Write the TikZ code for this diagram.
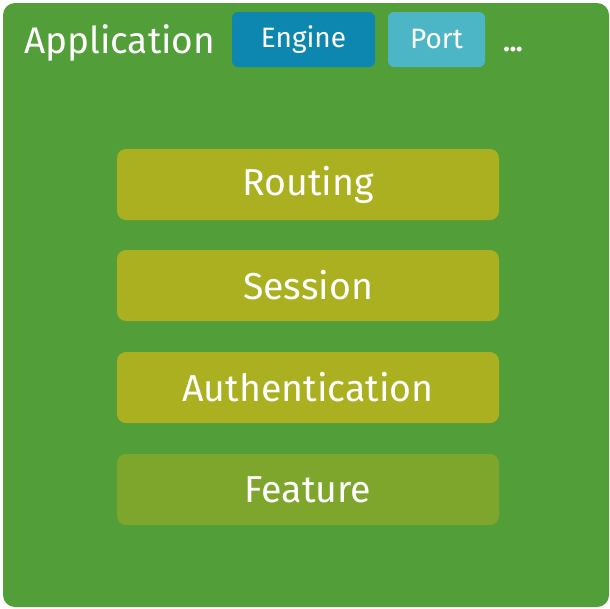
\documentclass[tikz,border=0pt]{standalone}
\usepackage{fontspec}
\setmainfont{Fira Sans}
\definecolor{appgreen}{HTML}{529E38}
\definecolor{enginebl}{HTML}{0D87B0}
\definecolor{portbl}{HTML}{4DB6C6}
\definecolor{layerol}{HTML}{AAB020}
\definecolor{featol}{HTML}{7FA62C}
\begin{document}
\begin{tikzpicture}[x=1pt,y=-1pt,
  layer/.style={rounded corners=9pt, minimum width=382pt, minimum height=71pt, text=white, font=\fontsize{37.5}{40}\selectfont, inner sep=0pt},
  tag/.style={rounded corners=6pt, minimum height=55pt, text=white, font=\fontsize{28}{30}\selectfont, inner sep=0pt}]
\useasboundingbox (0,0) rectangle (610,608);
\fill[appgreen, rounded corners=12pt] (3,3) rectangle (609,607);
\node[anchor=base west, text=white, font=\fontsize{37}{40}\selectfont, inner sep=0pt] (app) at (24,53) {Application};
\node[tag, fill=enginebl, minimum width=143pt] (engine) at (303.5,39.5) {Engine};
\node[tag, fill=portbl, minimum width=97pt] (port) at (436.5,39.5) {Port};
\node[anchor=base, text=white, font=\fontsize{27}{30}\selectfont\bfseries, inner sep=0pt] (dots) at (513,51) {...};
\node[layer, fill=layerol] (routing) at (308,184.5) {Routing};
\node[layer, fill=layerol] (session) at (308,285.5) {Session};
\node[layer, fill=layerol] (auth) at (308,387.5) {Authentication};
\node[layer, fill=featol] (feature) at (308,489.5) {Feature};
\end{tikzpicture}
\end{document}
